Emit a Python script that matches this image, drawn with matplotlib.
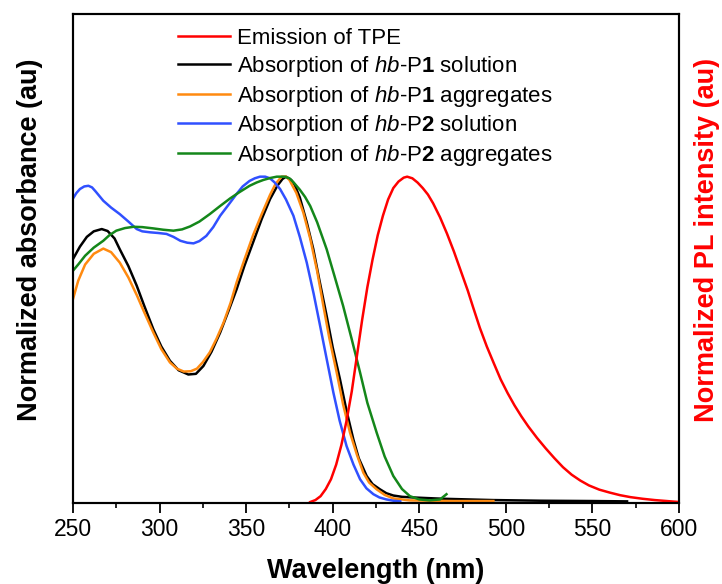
import matplotlib
matplotlib.use("Agg")
import matplotlib.pyplot as plt
from matplotlib.ticker import MultipleLocator

plt.rcParams['font.family'] = ['Liberation Sans', 'DejaVu Sans']
plt.rcParams['mathtext.fontset'] = 'custom'
plt.rcParams['mathtext.rm'] = 'Liberation Sans'
plt.rcParams['mathtext.it'] = 'Liberation Sans:italic'
plt.rcParams['mathtext.bf'] = 'Liberation Sans:bold'

# ---- data ----
p1_sol_x = [250, 254, 258, 262, 266.6, 270, 274, 277, 282, 286.8, 291, 296.4, 301, 306, 311,
            316.6, 321, 325.3, 330, 335, 340, 344.5, 349, 354, 359, 363.8, 368, 371, 373, 376,
            378, 381, 385, 388.8, 392, 396.5, 400, 404.2, 408, 411.9, 415, 419.6, 423, 427.3,
            431, 435, 440, 446.5, 455, 463.8, 478, 492.7, 520, 550.5, 570]
p1_sol_y = [0.747, 0.785, 0.815, 0.832, 0.839, 0.833, 0.81, 0.777, 0.725, 0.665, 0.605, 0.531,
            0.478, 0.434, 0.405, 0.392, 0.394, 0.418, 0.462, 0.521, 0.59, 0.654, 0.726, 0.798,
            0.87, 0.931, 0.972, 0.993, 1.0, 0.99, 0.975, 0.936, 0.86, 0.777, 0.69, 0.572, 0.475,
            0.377, 0.28, 0.193, 0.135, 0.08, 0.055, 0.039, 0.027, 0.02, 0.016, 0.014, 0.012,
            0.01, 0.008, 0.006, 0.004, 0.003, 0.002]

p1_agg_x = [250, 253, 257, 262, 267.5, 272, 277, 282, 287, 291, 296.4, 301, 306, 310, 314,
            318, 321.6, 325, 329, 333, 337, 341, 344.5, 349, 354, 359, 363.8, 367, 370.5, 373,
            375, 379, 383, 387, 391, 394.6, 398, 402.3, 406, 410, 414, 417.7, 421, 425.4, 430,
            435, 444.6, 470, 492.8]
p1_agg_y = [0.624, 0.68, 0.73, 0.763, 0.779, 0.768, 0.736, 0.69, 0.634, 0.585, 0.521, 0.47,
            0.429, 0.41, 0.401, 0.402, 0.41, 0.43, 0.46, 0.503, 0.552, 0.612, 0.675, 0.745,
            0.82, 0.885, 0.944, 0.978, 1.0, 1.0, 0.99, 0.95, 0.89, 0.81, 0.71, 0.603, 0.505,
            0.398, 0.3, 0.213, 0.145, 0.09, 0.06, 0.039, 0.022, 0.011, 0.005, 0.003, 0.003]

p2_sol_x = [250, 252, 254, 256.5, 258.9, 261, 263, 267.5, 272, 277, 282, 286.8, 290, 294.5,
            299, 304, 308, 312, 316, 319.6, 323, 327, 331, 335, 340, 344.5, 348, 352, 355, 358,
            361, 363.8, 366.5, 369.6, 373, 377.3, 381, 385, 389, 392.7, 396.5, 400.4, 404, 408,
            412, 415.8, 419.5, 423.5, 427, 431, 435, 439]
p2_sol_y = [0.933, 0.95, 0.962, 0.97, 0.972, 0.967, 0.955, 0.926, 0.905, 0.885, 0.862, 0.839,
            0.832, 0.829, 0.827, 0.824, 0.815, 0.803, 0.797, 0.795, 0.802, 0.818, 0.845, 0.88,
            0.915, 0.947, 0.97, 0.987, 0.995, 1.0, 1.0, 0.995, 0.982, 0.962, 0.93, 0.88, 0.815,
            0.736, 0.64, 0.542, 0.44, 0.336, 0.25, 0.172, 0.115, 0.07, 0.042, 0.024, 0.014,
            0.008, 0.004, 0.002]

p2_agg_x = [250, 253, 257, 262, 267.5, 271, 275, 280, 285, 290, 296.4, 302, 308, 313, 317.6,
            323, 329, 335, 340.7, 346, 352, 356, 360, 364, 367.7, 372, 375, 377.3, 381, 384,
            387, 391, 396.5, 401, 406, 411, 415.8, 420, 425.4, 430, 435, 440, 444.6, 450, 456,
            462, 465.7]
p2_agg_y = [0.711, 0.73, 0.757, 0.782, 0.803, 0.82, 0.834, 0.842, 0.846, 0.845, 0.841, 0.837,
            0.834, 0.838, 0.847, 0.862, 0.885, 0.91, 0.933, 0.952, 0.972, 0.982, 0.99, 0.996,
            1.0, 1.0, 0.995, 0.983, 0.96, 0.938, 0.91, 0.86, 0.777, 0.695, 0.603, 0.5, 0.398,
            0.305, 0.213, 0.14, 0.08, 0.04, 0.018, 0.008, 0.005, 0.008, 0.024]

tpe_em_x = [387, 390, 393, 396, 399, 402, 405, 408, 411, 414, 417, 420, 423, 426, 429, 432,
            435, 438, 441, 443, 446, 449, 452, 455, 458, 462, 466, 470, 474, 478, 481, 485,
            489, 493, 497, 501, 505, 509, 513, 518, 523, 528, 533, 538, 543, 548, 554, 560,
            566, 572, 579, 586, 593, 600]
tpe_em_y = [0.0, 0.006, 0.018, 0.04, 0.07, 0.115, 0.175, 0.25, 0.34, 0.45, 0.56, 0.66, 0.745,
            0.82, 0.88, 0.93, 0.965, 0.985, 0.997, 1.0, 0.995, 0.982, 0.965, 0.945, 0.918, 0.875,
            0.825, 0.77, 0.71, 0.65, 0.6, 0.535, 0.478, 0.427, 0.377, 0.335, 0.297, 0.263,
            0.232, 0.197, 0.165, 0.135, 0.107, 0.084, 0.066, 0.051, 0.038, 0.029, 0.021, 0.015,
            0.01, 0.006, 0.003, 0.0]

labels = ["Emission of TPE",
          r"Absorption of $\it{hb}$-P$\bf{1}$ solution",
          r"Absorption of $\it{hb}$-P$\bf{1}$ aggregates",
          r"Absorption of $\it{hb}$-P$\bf{2}$ solution",
          r"Absorption of $\it{hb}$-P$\bf{2}$ aggregates"]
x_ticks = [250, 300, 350, 400, 450, 500, 550, 600]

# ---- figure ----
fig = plt.figure(figsize=(7.22, 5.84), dpi=100)
ax = fig.add_axes([73/722, 81/584, 606/722, 489/584])
ax2 = ax.twinx()

lw = 1.8
l_em, = ax2.plot(tpe_em_x, tpe_em_y, color='#ff0000', lw=lw)
l1, = ax.plot(p1_sol_x, p1_sol_y, color='black', lw=lw)
l2, = ax.plot(p1_agg_x, p1_agg_y, color='#ff8a10', lw=lw)
l3, = ax.plot(p2_sol_x, p2_sol_y, color='#3050ff', lw=lw)
l4, = ax.plot(p2_agg_x, p2_agg_y, color='#14871a', lw=lw)

for a in (ax, ax2):
    a.set_xlim(250, 600)
    a.set_ylim(-0.003, 1.5)
    a.set_yticks([])
    for s in a.spines.values():
        s.set_linewidth(1.5)

ax.set_xticks(x_ticks)
ax.xaxis.set_minor_locator(MultipleLocator(25))
ax.tick_params(axis='x', which='major', direction='out', length=7, width=1.3,
               labelsize=16.5, pad=3.5)
ax.tick_params(axis='x', which='minor', direction='out', length=3.5, width=1.2)
ax.tick_params(axis='x', top=False)

leg = ax.legend([l_em, l1, l2, l3, l4], labels, loc='upper left',
                bbox_to_anchor=(0.173, 0.971), frameon=False, fontsize=16,
                handlelength=2.34, handletextpad=0.31, labelspacing=0.21,
                borderpad=0, borderaxespad=0)

fig.text(376/722, 1 - 571/584, "Wavelength (nm)", ha='center', va='center',
         fontsize=19.5, fontweight='bold')
fig.text(30/722, 1 - 240/584, "Normalized absorbance (au)", ha='center', va='center',
         rotation=90, fontsize=19.5, fontweight='bold')
fig.text(707/722, 1 - 240/584, "Normalized PL intensity (au)", ha='center', va='center',
         rotation=90, fontsize=19.5, fontweight='bold', color='#ff0000')

fig.savefig("out.png", dpi=100)
